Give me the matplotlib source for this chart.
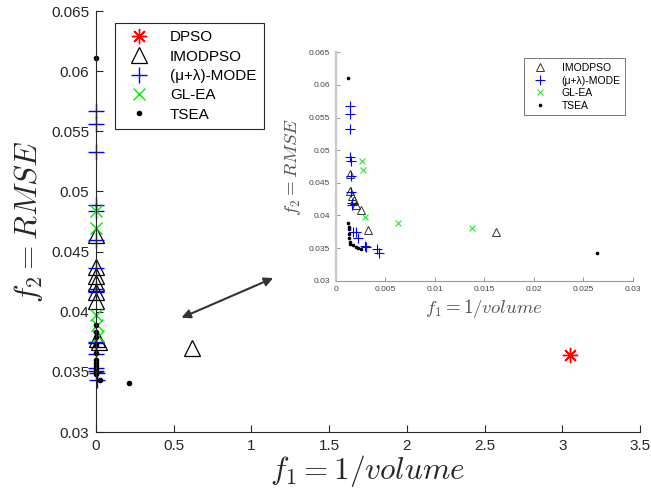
import matplotlib
matplotlib.use("Agg")
import matplotlib.pyplot as plt

plt.rcParams['font.family'] = ['Liberation Sans', 'DejaVu Sans']
plt.rcParams['mathtext.fontset'] = 'cm'

# ---------------- data ----------------
dpso_x = [3.05]
dpso_y = [0.0364]

imodpso_x = [0.0014, 0.0014, 0.0016, 0.0018, 0.0021, 0.0026, 0.0033, 0.0162, 0.62]
imodpso_y = [0.0464, 0.0437, 0.0430, 0.0424, 0.0416, 0.0409, 0.0377, 0.0375, 0.0370]

mode_x = [0.0014, 0.0014, 0.0014, 0.0014, 0.0015, 0.0015, 0.0015, 0.0016,
          0.0016, 0.0017, 0.0020, 0.0023, 0.0030, 0.0031, 0.0042, 0.0044]
mode_y = [0.0567, 0.0556, 0.0533, 0.0489, 0.0484, 0.0460, 0.0436, 0.0419,
          0.0416, 0.0375, 0.0374, 0.0365, 0.0353, 0.0351, 0.0349, 0.0343]

glea_x = [0.0027, 0.0028, 0.0030, 0.0063, 0.0138]
glea_y = [0.0484, 0.0470, 0.0397, 0.0389, 0.0380]

tsea_x = [0.0012, 0.0012, 0.0013, 0.0013, 0.0013, 0.0013, 0.0014, 0.0014,
          0.0017, 0.0020, 0.0023, 0.0026, 0.0264, 0.21]
tsea_y = [0.0611, 0.0389, 0.0383, 0.0379, 0.0372, 0.0366, 0.0360, 0.0357,
          0.0355, 0.0352, 0.0350, 0.0348, 0.0343, 0.0341]

main_xticks = [0, 0.5, 1, 1.5, 2, 2.5, 3, 3.5]
main_xticklabels = ['0', '0.5', '1', '1.5', '2', '2.5', '3', '3.5']
yticks = [0.03, 0.035, 0.04, 0.045, 0.05, 0.055, 0.06, 0.065]
yticklabels = ['0.03', '0.035', '0.04', '0.045', '0.05', '0.055', '0.06', '0.065']
inset_xticks = [0, 0.005, 0.01, 0.015, 0.02, 0.025, 0.03]
inset_xticklabels = ['0', '0.005', '0.01', '0.015', '0.02', '0.025', '0.03']

labels = ['DPSO', 'IMODPSO', '(\u03bc+\u03bb)-MODE', 'GL-EA', 'TSEA']

# arrow end points (data coords of the main axes)
arrow_from = (0.55, 0.0395)
arrow_to = (1.14, 0.0428)

W, H = 651, 497
fig = plt.figure(figsize=(W / 100, H / 100), dpi=100)
txt = '#262626'

asterisk = (8, 2, 0)

# ---------------- main axes ----------------
ax = fig.add_axes([96 / W, 1 - 432 / H, (640 - 96) / W, (432 - 11) / H])
kw = dict(linestyle='none', clip_on=False)
ax.plot(dpso_x, dpso_y, marker=asterisk, ms=11, mec='red', mfc='none', mew=1.0, label=labels[0], **kw)
ax.plot(imodpso_x, imodpso_y, marker='^', ms=11, mec='black', mfc='none', mew=0.9, label=labels[1], **kw)
ax.plot(mode_x, mode_y, marker='+', ms=12, mec='blue', mew=1.0, label=labels[2], **kw)
ax.plot(glea_x, glea_y, marker='x', ms=8, mec='#00ee00', mew=1.0, label=labels[3], **kw)
ax.plot(tsea_x, tsea_y, marker='o', ms=3, mec='black', mfc='black', label=labels[4], **kw)

ax.set_xlim(0, 3.5)
ax.set_ylim(0.03, 0.065)
ax.set_xticks(main_xticks)
ax.set_xticklabels(main_xticklabels)
ax.set_yticks(yticks)
ax.set_yticklabels(yticklabels)
for s in ['top', 'right']:
    ax.spines[s].set_visible(False)
for s in ['left', 'bottom']:
    ax.spines[s].set_color(txt)
    ax.spines[s].set_linewidth(0.8)
ax.tick_params(direction='in', length=5, width=0.8, color=txt, labelcolor=txt, labelsize=11, pad=5)
ax.set_xlabel(r'$f_1 = 1/volume$', fontsize=22.5, color=txt, labelpad=0)
ax.set_ylabel(r'$f_2 = RMSE$', fontsize=22.5, color=txt, labelpad=4)

leg = ax.legend(loc='upper left', bbox_to_anchor=(0.035, 0.972), borderaxespad=0,
                fancybox=False, framealpha=1, edgecolor=txt, fontsize=11,
                labelspacing=0.35, handlelength=2.2, handletextpad=0.9, borderpad=0.5)
leg.get_frame().set_linewidth(0.8)

ax.annotate('', xy=arrow_from, xytext=arrow_to,
            arrowprops=dict(arrowstyle='<|-|>', color='#333333', lw=1.5,
                            mutation_scale=13, shrinkA=0, shrinkB=0))

# ---------------- inset axes ----------------
ins = fig.add_axes([335.7 / W, 1 - 280.7 / H, 297 / W, 228.4 / H])
ins.plot(imodpso_x, imodpso_y, linestyle='none', marker='^', ms=6, mec='#333333', mfc='none', mew=0.7, label=labels[1])
ins.plot(mode_x, mode_y, linestyle='none', marker='+', ms=7, mec='blue', mew=0.8, label=labels[2])
ins.plot(glea_x, glea_y, linestyle='none', marker='x', ms=4.5, mec='#22ee22', mew=0.8, label=labels[3])
ins.plot(tsea_x, tsea_y, linestyle='none', marker='o', ms=1.6, mec='black', mfc='black', label=labels[4])
ins.set_xlim(0, 0.03)
ins.set_ylim(0.03, 0.065)
ins.set_xticks(inset_xticks)
ins.set_xticklabels(inset_xticklabels)
ins.set_yticks(yticks)
ins.set_yticklabels(yticklabels)
for s in ['top', 'right']:
    ins.spines[s].set_visible(False)
ins.spines['left'].set_color('#c8c8c8')
ins.spines['left'].set_linewidth(1.6)
ins.spines['bottom'].set_color('#9a9a9a')
ins.spines['bottom'].set_linewidth(0.8)
ins.tick_params(direction='in', length=3, width=0.7, color='#999999', labelcolor='#444444', labelsize=6, pad=4)
ins.set_xlabel(r'$f_1 = 1/volume$', fontsize=13.5, color='#555555', labelpad=3)
ins.set_ylabel(r'$f_2 = RMSE$', fontsize=13.5, color='#555555', labelpad=4)
ileg = ins.legend(loc='upper right', bbox_to_anchor=(0.975, 0.974), borderaxespad=0,
                  fancybox=False, framealpha=1, edgecolor='#777777', fontsize=7.5,
                  labelspacing=0.25, handlelength=2.2, handletextpad=1.0, borderpad=0.45)
ileg.get_frame().set_linewidth(0.7)

fig.savefig('out.png', dpi=100)
